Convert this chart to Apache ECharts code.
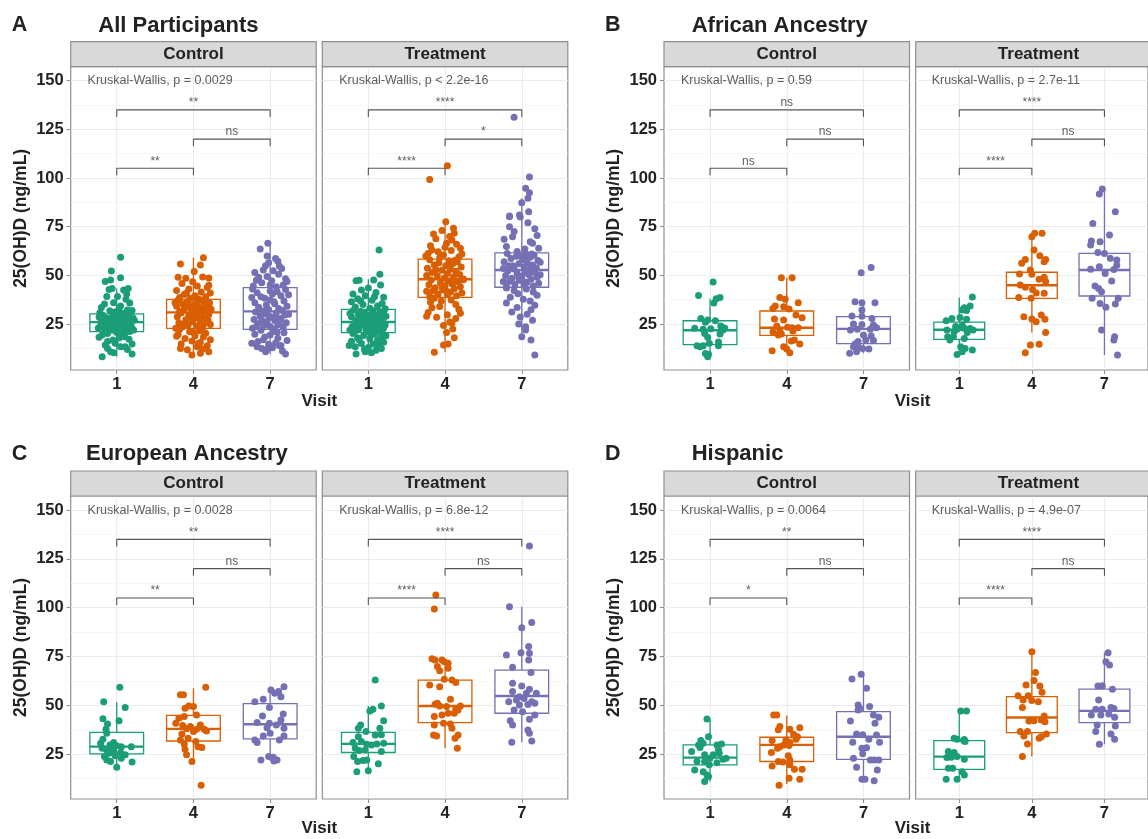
<!DOCTYPE html>
<html><head><meta charset="utf-8">
<script src="https://cdn.jsdelivr.net/npm/echarts@6/dist/echarts.min.js"></script>
<style>html,body{margin:0;padding:0;background:#fff}#c{width:1148px;height:839px}</style>
</head><body><div id="c"></div><script>
// ---------- labels ----------
const visits = ['1','4','7'];
const facets = ['Control','Treatment'];
const yTicks = [25,50,75,100,125,150];
const yMinor = [12.5,37.5,62.5,87.5,112.5,137.5];
const colors = ['#1B9E77','#D95F02','#7570B3'];
const panelLetters = ['A','B','C','D'];
const panelTitles = ['All Participants','African Ancestry','European Ancestry','Hispanic'];
const kwText = [
  ['Kruskal-Wallis, p = 0.0029','Kruskal-Wallis, p < 2.2e-16'],
  ['Kruskal-Wallis, p = 0.59','Kruskal-Wallis, p = 2.7e-11'],
  ['Kruskal-Wallis, p = 0.0028','Kruskal-Wallis, p = 6.8e-12'],
  ['Kruskal-Wallis, p = 0.0064','Kruskal-Wallis, p = 4.9e-07']
];
// significance labels, order: 1 vs 4, 4 vs 7, 1 vs 7
const sigLabels = [
  [['**','ns','**'],['****','*','****']],
  [['ns','ns','ns'],['****','ns','****']],
  [['**','ns','**'],['****','ns','****']],
  [['*','ns','**'],['****','ns','****']]
];
const bracketPairs = [[1,2],[2,3],[1,3]];
const bracketY = [105,120,135];
const bracketTip = 3.6;
const kwY = 150;
const kwX = 0.62;

// ---------- box stats [lower whisker, Q1, median, Q3, upper whisker] ----------
const boxA_C = [[8.2,21.1,26.0,30.2,43.3],[9.1,22.8,31.0,37.7,59.1],[9.6,22.3,31.5,43.7,66.5]];
const boxA_T = [[9.6,20.6,26.05,32.5,48.0],[10.5,38.7,48.0,58.4,77.6],[18.5,43.9,52.8,61.6,89.6]];
const boxB_C = [[8.2,14.4,21.8,26.7,38.0],[10.3,19.2,23.1,31.7,48.8],[10.0,14.9,22.5,28.8,36.5]];
const boxB_T = [[9.4,17.1,22.1,26.0,38.7],[20.6,38.2,44.9,51.6,71.6],[9.1,39.4,52.8,61.3,94.4]];
const boxC_C = [[18.4,25.2,28.9,36.2,51.6],[21.3,31.8,38.0,44.9,58.8],[21.6,32.9,40.4,50.9,59.6]];
const boxC_T = [[16.1,25.9,30.3,36.2,49.7],[28.1,41.2,49.7,63.0,73.3],[31.2,46.0,54.8,68.1,100.5]];
const boxD_C = [[11.0,19.6,23.3,29.8,43.1],[9.8,21.3,29.8,33.7,44.8],[11.5,22.4,34.0,46.8,65.9]];
const boxD_T = [[12.2,17.3,23.8,32.0,47.2],[23.8,36.1,43.8,54.5,77.5],[30.1,41.2,47.2,58.3,77.0]];

// ---------- jittered points [x offset from visit, value] ----------
const ptsA_C1 = [[0.05,59.3],[-0.07,52.2],[0.05,48.8],[-0.15,46.8],[-0.08,47.6],[-0.1,42.8],[-0.06,43.3],[0.15,43.3],[0.09,42.5],[0.13,40.5],[-0.13,39.1],[0.12,37.7],[0.01,39.1],[-0.16,35.3],[-0.04,36.0],[0.05,34.3],[0.17,35.8],[-0.2,33.5],[0.2,32.0],[0.03,33.0],[-0.09,31.8],[0.14,32.2],[-0.22,30.8],[0.07,30.6],[-0.02,31.2],[0.1,30.4],[-0.18,29.5],[0.02,29.8],[0.16,29.2],[-0.05,28.9],[0.09,28.5],[-0.12,28.0],[0.21,28.2],[-0.01,27.6],[0.12,27.3],[-0.2,27.0],[0.05,26.8],[-0.09,26.5],[0.18,26.4],[-0.15,26.2],[0.0,26.1],[0.08,27.9],[-0.03,29.1],[0.13,29.6],[-0.23,28.6],[0.23,26.9],[-0.07,27.2],[0.04,28.0],[-0.17,25.7],[0.06,25.5],[0.15,25.2],[-0.08,24.9],[0.1,24.6],[-0.21,24.3],[0.02,24.0],[0.19,23.8],[-0.11,23.5],[0.08,23.2],[-0.02,22.9],[-0.16,22.6],[0.13,22.4],[0.22,22.0],[-0.06,21.8],[0.04,21.5],[-0.13,21.3],[0.17,21.2],[-0.24,23.0],[0.11,25.9],[-0.04,25.0],[0.0,22.2],[0.07,21.0],[-0.19,24.6],[-0.12,20.2],[-0.19,19.4],[0.1,20.0],[-0.23,18.2],[0.1,18.5],[0.16,17.2],[-0.12,16.0],[-0.02,15.1],[0.05,13.4],[0.2,14.7],[0.11,13.4],[-0.12,12.5],[-0.08,10.8],[-0.04,10.3],[0.2,9.6],[-0.19,8.2],[0.03,17.8],[-0.15,14.2],[0.08,19.5],[-0.05,16.8],[0.14,11.9],[0.0,20.6]];
const ptsA_C4 = [[0.13,59.1],[-0.17,55.8],[0.09,55.3],[-0.2,49.0],[0.2,48.6],[-0.01,46.7],[-0.1,48.5],[0.12,49.2],[-0.15,45.8],[0.05,44.6],[0.18,43.8],[-0.06,43.0],[-0.22,42.2],[0.1,41.5],[0.22,40.9],[-0.12,40.2],[0.02,39.6],[0.16,39.0],[-0.18,38.6],[-0.04,38.2],[0.07,37.9],[0.2,44.9],[-0.09,41.0],[0.01,52.0],[-0.2,37.4],[0.12,37.0],[-0.08,36.6],[0.04,36.2],[0.21,35.8],[-0.14,35.4],[0.0,35.0],[0.16,34.6],[-0.22,34.2],[0.08,33.8],[-0.05,33.5],[0.19,33.1],[-0.12,32.8],[0.1,32.4],[-0.02,32.1],[0.14,31.8],[-0.18,31.5],[0.05,31.2],[-0.09,34.9],[0.23,32.6],[-0.24,36.0],[0.0,33.0],[0.17,36.9],[-0.16,30.7],[0.07,30.3],[0.2,29.9],[-0.06,29.5],[0.11,29.1],[-0.21,28.7],[0.03,28.2],[0.17,27.7],[-0.1,27.2],[0.09,26.7],[-0.01,26.2],[-0.19,25.7],[0.14,25.3],[0.22,24.8],[-0.07,24.4],[0.04,24.0],[-0.14,23.6],[0.12,23.2],[-0.23,22.9],[0.0,29.8],[0.19,27.0],[-0.12,25.0],[0.06,23.8],[-0.03,28.0],[-0.18,22.2],[0.08,21.6],[-0.05,21.0],[0.16,20.3],[-0.2,19.6],[0.02,19.0],[0.13,18.3],[-0.11,17.6],[0.22,17.0],[-0.02,16.3],[0.09,15.5],[-0.16,14.7],[0.18,13.9],[-0.17,12.5],[0.05,13.4],[0.09,10.0],[-0.02,9.1],[0.2,10.8],[-0.08,11.8],[0.12,12.2],[-0.22,18.8],[0.0,20.6],[0.06,15.0]];
const ptsA_C7 = [[-0.03,66.5],[-0.13,63.5],[-0.04,60.0],[0.07,58.7],[-0.02,56.5],[0.12,54.8],[-0.09,52.8],[0.04,52.4],[-0.15,49.0],[-0.04,49.4],[0.11,50.6],[0.17,45.1],[-0.18,47.5],[0.2,48.3],[-0.11,46.2],[0.0,45.0],[0.08,44.2],[-0.22,44.6],[0.15,53.5],[-0.06,55.0],[0.22,46.8],[0.02,47.2],[-0.2,51.5],[0.1,57.2],[-0.17,41.1],[-0.07,38.2],[0.09,41.7],[0.2,42.8],[-0.23,43.0],[0.03,40.5],[0.14,39.6],[-0.12,39.0],[0.0,37.4],[0.18,36.8],[-0.2,36.0],[0.06,35.4],[-0.05,34.8],[0.22,34.2],[-0.15,33.6],[0.11,33.0],[-0.02,32.5],[0.16,32.0],[-0.09,31.7],[0.05,36.5],[-0.24,38.6],[0.24,40.0],[0.0,42.0],[-0.19,31.2],[0.08,30.7],[-0.06,30.2],[0.19,29.6],[-0.13,29.1],[0.02,28.5],[0.14,27.9],[-0.21,27.4],[0.06,26.8],[-0.04,26.3],[0.21,25.7],[-0.16,25.2],[0.1,24.7],[-0.08,24.2],[0.0,23.7],[0.17,23.3],[-0.23,22.8],[0.05,22.5],[-0.11,27.0],[0.24,30.0],[-0.01,29.0],[0.12,25.9],[-0.18,23.8],[0.07,28.0],[-0.12,21.8],[0.04,21.2],[0.18,20.5],[-0.2,19.8],[0.0,19.4],[0.1,17.7],[-0.07,18.3],[0.22,16.6],[-0.16,16.0],[0.07,15.3],[-0.02,14.6],[0.14,14.0],[-0.17,13.4],[-0.11,12.5],[-0.04,12.0],[0.12,13.9],[0.2,9.6],[0.03,12.8],[-0.24,15.2],[0.09,20.9],[-0.09,17.0],[0.16,11.2],[-0.06,10.8]];
const ptsA_T1 = [[0.14,63.0],[0.15,50.6],[0.07,47.6],[-0.16,47.3],[-0.12,47.5],[-0.09,42.5],[0.0,43.5],[0.16,45.0],[-0.2,40.5],[0.1,41.2],[-0.04,39.6],[0.2,38.8],[-0.14,38.0],[0.05,37.2],[-0.22,36.4],[0.18,35.6],[-0.07,35.0],[0.12,34.3],[-0.17,33.7],[0.02,33.1],[0.22,32.8],[-0.1,36.8],[0.08,39.0],[-0.19,32.2],[0.06,31.8],[0.15,31.3],[-0.05,30.9],[0.2,30.5],[-0.13,30.0],[0.01,29.6],[0.11,29.1],[-0.22,28.7],[-0.08,28.2],[0.17,27.8],[0.04,27.3],[-0.15,26.9],[0.09,26.5],[-0.02,26.2],[0.23,29.0],[-0.1,31.5],[0.13,27.0],[-0.24,30.4],[0.0,28.0],[0.19,26.4],[-0.05,27.5],[0.07,30.0],[-0.17,25.8],[0.05,25.4],[0.16,25.0],[-0.06,24.6],[0.1,24.2],[-0.21,23.8],[0.0,23.4],[0.2,23.0],[-0.12,22.6],[0.07,22.2],[-0.03,21.8],[0.14,21.4],[-0.18,21.0],[0.02,20.7],[0.22,24.5],[-0.09,25.1],[0.12,22.9],[-0.24,22.0],[0.04,24.0],[-0.14,23.2],[0.18,21.7],[-0.01,25.6],[0.09,20.9],[-0.2,20.2],[0.08,19.7],[-0.06,19.1],[0.17,18.6],[-0.14,18.0],[0.02,17.4],[0.12,16.8],[-0.22,16.2],[0.2,15.6],[-0.09,15.0],[0.06,14.7],[0.13,14.3],[-0.17,13.4],[-0.05,12.0],[0.17,12.5],[-0.16,9.6],[-0.04,10.8],[0.0,13.0],[0.1,11.5],[-0.12,17.0],[0.23,19.0],[-0.25,14.0],[0.04,10.2]];
const ptsA_T4 = [[0.03,106.3],[-0.2,99.3],[0.01,77.6],[0.11,74.2],[-0.15,71.3],[-0.04,73.0],[0.12,71.6],[0.09,68.2],[0.02,66.5],[-0.17,63.0],[-0.09,62.2],[-0.22,61.3],[0.15,66.0],[0.2,64.0],[-0.12,68.8],[0.06,70.0],[-0.02,60.5],[0.18,59.5],[-0.19,65.2],[0.08,62.8],[-0.07,59.0],[0.22,61.0],[0.0,64.5],[-0.25,60.0],[-0.2,58.0],[0.05,57.5],[0.16,57.0],[-0.08,56.5],[0.1,56.0],[-0.14,55.4],[0.01,54.9],[0.21,54.3],[-0.23,53.7],[0.07,53.2],[-0.04,52.7],[0.14,52.1],[-0.17,51.5],[0.03,51.0],[0.19,50.4],[-0.1,49.8],[0.11,49.3],[-0.01,48.7],[0.24,48.2],[-0.12,53.0],[0.06,55.8],[-0.24,50.0],[0.13,57.8],[-0.18,47.6],[0.04,47.2],[0.17,46.7],[-0.06,46.2],[0.09,45.7],[-0.21,45.2],[0.0,44.7],[0.2,44.1],[-0.13,43.6],[0.12,43.1],[-0.03,42.6],[-0.16,42.0],[0.07,41.5],[0.22,41.0],[-0.09,40.5],[0.03,40.0],[0.15,39.5],[-0.2,39.0],[-0.04,44.0],[0.1,46.0],[-0.24,41.8],[0.24,47.8],[0.01,42.3],[-0.14,38.2],[0.08,37.3],[-0.19,36.2],[0.14,35.0],[-0.07,34.0],[0.18,32.6],[-0.22,31.0],[0.03,29.8],[-0.11,28.5],[0.14,27.9],[0.06,26.0],[-0.02,24.3],[0.1,22.5],[0.02,20.6],[-0.17,33.4],[0.2,30.5],[0.04,14.7],[-0.02,14.2],[-0.14,10.5],[0.09,25.5],[-0.05,36.8],[0.12,18.0],[-0.24,29.0]];
const ptsA_T7 = [[-0.1,131.2],[0.1,100.5],[0.05,94.7],[0.1,92.5],[0.08,89.6],[0.0,87.3],[0.09,82.7],[-0.16,80.1],[-0.02,80.0],[-0.16,80.5],[-0.03,81.0],[0.08,77.1],[-0.16,75.0],[-0.1,72.5],[-0.12,69.9],[0.11,67.3],[0.14,66.5],[0.2,70.5],[-0.2,64.8],[0.04,63.5],[-0.06,62.3],[0.17,74.0],[0.22,64.0],[-0.23,68.5],[-0.19,61.2],[0.06,60.8],[0.16,60.3],[-0.07,59.8],[0.11,59.3],[-0.14,58.7],[0.01,58.2],[0.21,57.6],[-0.23,57.0],[0.07,56.5],[-0.04,56.0],[0.14,55.4],[-0.17,54.9],[0.03,54.4],[0.19,53.8],[-0.1,53.3],[0.1,53.0],[-0.01,60.0],[0.24,56.8],[-0.12,55.0],[0.05,58.5],[-0.24,53.5],[0.13,61.0],[-0.18,52.4],[0.04,52.0],[0.17,51.5],[-0.06,51.0],[0.09,50.5],[-0.21,50.0],[0.0,49.5],[0.2,49.0],[-0.13,48.5],[0.12,48.0],[-0.03,47.5],[-0.16,47.0],[0.07,46.5],[0.22,46.0],[-0.09,45.5],[0.03,45.0],[0.15,44.5],[-0.2,44.2],[-0.04,48.8],[0.1,51.2],[-0.24,46.8],[0.24,50.3],[0.01,47.2],[-0.2,43.5],[0.06,43.0],[-0.1,42.2],[0.15,41.5],[-0.05,40.6],[0.2,39.8],[-0.15,38.8],[0.02,37.8],[0.11,36.9],[-0.2,35.8],[0.17,34.6],[-0.06,33.5],[0.12,32.4],[-0.13,31.2],[0.07,30.0],[-0.02,28.6],[0.14,27.0],[-0.04,25.0],[0.05,23.6],[0.05,21.9],[0.0,18.5],[0.12,16.8],[0.17,9.1]];
const ptsB_C1 = [[0.04,46.6],[-0.15,39.7],[0.08,38.0],[0.13,38.6],[0.05,35.8],[-0.12,27.9],[-0.03,27.1],[0.07,26.7],[-0.06,25.9],[-0.2,22.8],[-0.09,22.3],[0.01,22.6],[0.14,24.0],[0.17,21.9],[0.19,23.0],[-0.07,20.2],[-0.03,18.2],[0.13,19.9],[-0.17,13.9],[-0.13,13.4],[-0.09,13.9],[-0.01,15.1],[0.11,13.9],[0.11,15.8],[-0.06,9.9],[-0.03,8.2],[-0.02,9.5]];
const ptsB_C4 = [[-0.07,48.8],[0.07,48.8],[-0.09,38.7],[-0.02,37.7],[-0.15,34.3],[-0.18,33.0],[-0.04,33.9],[0.03,32.7],[0.15,36.0],[0.12,29.6],[0.2,28.3],[-0.16,27.6],[-0.04,27.1],[-0.13,24.0],[0.01,23.3],[0.07,23.1],[0.15,23.1],[-0.09,21.9],[-0.18,21.1],[-0.07,19.9],[-0.11,19.4],[0.08,21.4],[0.1,16.8],[0.06,16.3],[0.17,14.7],[-0.04,13.4],[0.0,12.2],[-0.19,11.3],[0.04,10.3]];
const ptsB_C7 = [[-0.03,51.4],[0.10,54.0],[-0.11,36.5],[-0.02,36.0],[0.15,36.0],[-0.02,32.2],[-0.15,29.1],[-0.02,29.0],[0.11,27.9],[-0.13,25.0],[-0.02,24.8],[0.13,24.5],[0.17,23.1],[-0.17,21.9],[-0.08,22.3],[0.09,22.3],[0.0,19.4],[0.1,18.9],[0.03,16.8],[0.13,16.5],[-0.07,16.0],[-0.11,14.7],[-0.13,13.4],[-0.07,13.3],[-0.01,12.5],[0.07,12.2],[-0.18,10.0],[-0.09,10.8],[0.12,23.3]];
const ptsB_T1 = [[0.18,38.9],[0.07,33.4],[0.04,32.2],[0.1,32.0],[0.15,34.3],[-0.18,26.7],[-0.10,27.9],[0.01,28.4],[0.1,27.5],[-0.05,23.7],[0.04,24.5],[0.07,22.8],[0.15,22.7],[0.19,21.9],[-0.17,22.0],[-0.03,22.3],[-0.16,18.5],[-0.08,18.6],[-0.13,16.8],[0.07,17.6],[0.02,13.4],[0.08,12.5],[0.18,11.7],[-0.03,9.4],[0.04,10.8],[0.11,20.6],[-0.07,21.2]];
const ptsB_T4 = [[0.04,71.6],[0.14,71.6],[0.0,69.9],[0.03,63.0],[-0.09,58.2],[-0.14,56.2],[0.11,60.1],[0.19,58.2],[0.17,57.0],[-0.02,52.8],[-0.17,50.7],[0.0,50.6],[0.17,49.0],[0.1,48.0],[0.19,46.8],[-0.16,45.1],[-0.09,43.9],[0.01,42.8],[0.17,40.8],[0.06,40.9],[-0.18,38.7],[-0.01,38.2],[-0.11,28.8],[0.0,27.6],[0.06,26.2],[0.13,29.6],[0.18,27.5],[0.19,20.6],[-0.02,14.2],[0.1,14.6],[-0.09,10.3]];
const ptsB_T7 = [[-0.03,94.4],[-0.07,91.8],[0.15,82.7],[-0.16,76.7],[0.07,70.7],[-0.18,67.7],[-0.06,67.3],[-0.19,65.6],[0.0,61.3],[-0.09,61.7],[0.08,58.8],[0.17,57.9],[-0.19,53.1],[-0.07,54.5],[0.13,53.0],[0.01,51.0],[0.17,55.2],[0.1,47.1],[-0.13,44.5],[-0.08,43.3],[-0.04,41.6],[-0.17,38.2],[-0.06,35.6],[0.19,38.2],[0.15,35.3],[0.02,33.6],[-0.04,21.9],[0.14,18.5],[0.13,16.8],[0.18,9.1]];
const ptsC_C1 = [[0.04,59.3],[-0.17,51.9],[0.11,48.9],[-0.18,43.2],[0.03,42.2],[-0.12,40.5],[-0.14,37.8],[-0.13,35.7],[-0.18,32.7],[-0.04,31.0],[-0.09,29.8],[0.0,29.3],[0.06,28.9],[0.19,28.9],[-0.19,28.1],[-0.13,27.2],[-0.04,26.7],[-0.1,25.5],[0.11,24.7],[-0.16,23.8],[-0.02,24.2],[0.06,23.0],[-0.13,22.1],[-0.08,21.3],[0.2,21.1],[0.0,18.4],[-0.21,30.6],[-0.06,27.6],[0.05,25.9]];
const ptsC_C4 = [[-0.17,55.4],[-0.13,55.4],[0.16,59.3],[-0.06,49.7],[-0.11,48.5],[0.0,49.4],[0.04,45.1],[-0.19,43.4],[-0.12,44.3],[-0.23,40.9],[-0.14,39.7],[-0.04,39.2],[0.09,40.0],[-0.09,38.0],[0.04,37.8],[0.14,37.8],[-0.15,35.4],[0.0,36.6],[0.17,36.9],[-0.17,32.3],[-0.07,33.2],[-0.12,30.3],[0.03,31.5],[-0.11,27.6],[0.06,28.9],[0.11,28.4],[-0.09,24.7],[-0.02,21.3],[0.1,9.1]];
const ptsC_C7 = [[0.18,59.6],[0.01,57.9],[0.06,56.2],[0.11,57.1],[0.14,54.5],[-0.09,53.1],[-0.2,51.9],[-0.01,48.9],[0.17,45.6],[-0.1,44.6],[0.14,42.6],[-0.01,40.9],[-0.17,41.2],[0.08,40.0],[0.18,38.3],[-0.04,38.6],[0.0,35.7],[-0.09,34.4],[0.18,34.4],[0.12,32.3],[-0.2,32.3],[-0.17,31.0],[-0.12,22.1],[-0.02,23.8],[0.04,23.5],[0.09,22.1],[0.05,21.6]];
const ptsC_T1 = [[0.09,63.0],[0.17,49.7],[0.06,48.0],[0.02,47.2],[0.2,42.2],[-0.1,40.0],[-0.13,38.3],[0.15,38.3],[-0.03,36.6],[0.09,34.9],[-0.13,34.0],[0.17,35.0],[-0.2,31.0],[-0.09,31.5],[-0.02,30.1],[0.04,29.8],[0.11,30.3],[0.2,30.6],[-0.17,28.1],[-0.12,26.9],[-0.04,27.2],[0.17,26.4],[-0.19,23.8],[-0.07,21.8],[-0.02,22.1],[0.13,20.1],[-0.14,21.3],[-0.15,16.1],[0.0,16.6]];
const ptsC_T4 = [[-0.12,106.5],[-0.14,99.4],[-0.17,73.9],[-0.13,73.3],[-0.04,73.3],[-0.01,72.4],[-0.1,69.9],[0.04,71.6],[-0.07,67.8],[0.04,69.0],[-0.01,63.4],[0.09,63.0],[0.14,61.7],[-0.2,60.5],[-0.07,59.6],[-0.1,51.1],[0.07,53.1],[-0.13,50.6],[-0.07,49.7],[0.02,49.4],[0.14,48.0],[0.2,49.7],[-0.14,44.3],[-0.04,45.1],[0.04,46.0],[0.12,46.0],[0.17,47.7],[-0.02,40.9],[-0.14,40.0],[0.07,40.5],[-0.15,34.9],[-0.11,34.4],[0.17,34.9],[0.13,33.2],[0.16,28.1],[0.09,38.3]];
const ptsC_T7 = [[0.1,131.6],[-0.16,100.5],[0.13,92.4],[0.0,89.8],[0.09,80.1],[0.1,76.7],[-0.2,75.8],[-0.01,77.0],[0.09,73.3],[-0.12,69.5],[0.12,66.8],[-0.12,61.3],[0.0,60.0],[0.1,58.3],[-0.12,57.1],[0.06,56.2],[-0.03,54.5],[0.19,56.2],[-0.17,51.9],[-0.07,52.8],[0.03,53.6],[0.13,51.9],[-0.03,50.2],[0.08,50.5],[0.17,51.1],[-0.10,47.7],[0.01,46.8],[0.17,45.1],[-0.15,42.2],[0.1,42.9],[-0.12,40.0],[0.08,37.4],[0.1,35.7],[-0.13,31.2],[0.13,31.8]];
const ptsD_C1 = [[-0.04,43.1],[-0.12,32.0],[-0.02,34.0],[-0.24,26.4],[-0.15,29.8],[-0.09,30.6],[0.09,29.8],[0.15,30.3],[0.11,27.2],[-0.07,24.7],[0.0,23.0],[0.04,24.7],[0.17,22.5],[0.21,23.0],[-0.17,21.3],[-0.07,21.3],[-0.01,19.6],[0.09,20.7],[-0.2,17.0],[-0.09,16.1],[-0.04,14.4],[-0.02,13.6],[-0.07,11.0],[0.12,25.5],[-0.13,28.5]];
const ptsD_C4 = [[-0.17,45.1],[-0.13,45.1],[-0.09,39.2],[-0.11,37.5],[0.04,37.8],[0.17,38.6],[0.09,35.2],[0.14,34.0],[-0.19,32.0],[-0.01,32.3],[0.12,32.7],[0.04,31.0],[-0.09,28.9],[-0.04,29.8],[0.03,29.5],[-0.12,28.1],[-0.2,25.9],[0.02,24.2],[0.04,22.1],[-0.11,21.3],[-0.05,21.0],[-0.19,19.0],[0.04,19.6],[0.1,17.3],[0.2,17.3],[0.03,12.7],[0.17,12.2],[-0.10,9.1]];
const ptsD_C7 = [[-0.03,65.9],[-0.15,63.5],[0.04,58.8],[-0.07,50.2],[-0.05,48.5],[-0.07,47.7],[0.08,49.4],[-0.17,42.0],[0.13,45.1],[0.2,43.9],[0.15,40.9],[-0.09,35.4],[-0.01,35.0],[0.17,34.9],[-0.14,31.2],[0.07,32.7],[0.21,31.2],[-0.02,28.1],[0.04,28.3],[-0.01,25.2],[-0.13,23.0],[0.09,22.1],[0.14,22.1],[0.2,22.1],[-0.09,18.4],[0.18,17.0],[-0.02,12.2],[0.02,12.2],[0.14,11.5]];
const ptsD_T1 = [[0.02,47.2],[0.1,47.2],[-0.07,33.2],[-0.03,32.7],[0.06,32.0],[0.08,31.5],[0.07,32.5],[-0.15,26.4],[-0.07,25.9],[-0.03,23.8],[-0.17,23.3],[-0.11,23.5],[0.07,22.4],[-0.15,17.8],[-0.09,17.8],[0.04,16.1],[0.07,14.4],[-0.18,12.2],[-0.03,12.2]];
const ptsD_T4 = [[0.0,77.5],[0.05,66.8],[0.03,62.7],[-0.08,60.5],[0.11,60.0],[0.14,56.7],[-0.19,55.0],[-0.05,55.0],[0.09,51.9],[-0.12,52.8],[0.0,52.5],[-0.13,49.0],[0.17,44.6],[0.13,42.5],[0.03,42.2],[-0.04,42.0],[0.18,41.7],[-0.16,36.6],[-0.06,36.6],[-0.11,34.4],[0.10,33.2],[0.2,35.4],[0.13,34.0],[-0.06,30.3],[-0.13,23.8]];
const ptsD_T7 = [[0.05,77.0],[0.02,72.4],[0.07,70.7],[-0.09,60.0],[-0.03,60.1],[0.11,58.3],[-0.08,52.8],[-0.12,48.0],[-0.03,48.0],[0.09,49.0],[0.13,48.4],[-0.18,45.1],[-0.05,45.1],[0.14,43.9],[0.06,45.6],[-0.1,40.0],[0.15,39.5],[-0.12,36.6],[0.09,35.4],[0.14,32.7],[-0.07,30.1]];

// ---------- assemble ----------
const panelData = [
  {boxes:[boxA_C, boxA_T], pts:[[ptsA_C1,ptsA_C4,ptsA_C7],[ptsA_T1,ptsA_T4,ptsA_T7]]},
  {boxes:[boxB_C, boxB_T], pts:[[ptsB_C1,ptsB_C4,ptsB_C7],[ptsB_T1,ptsB_T4,ptsB_T7]]},
  {boxes:[boxC_C, boxC_T], pts:[[ptsC_C1,ptsC_C4,ptsC_C7],[ptsC_T1,ptsC_T4,ptsC_T7]]},
  {boxes:[boxD_C, boxD_T], pts:[[ptsD_C1,ptsD_C4,ptsD_C7],[ptsD_T1,ptsD_T4,ptsD_T7]]}
];

// layout (pixels)
const FONT = '"Liberation Sans", Arial, Helvetica, sans-serif';
const facetLeft = [[70.7, 322.3],[664, 915.7]];
const facetWidth = 245.5;
const rowTop = [66.7, 496];
const rowHeight = [303.3, 303];
const rowY = [[1.4,157.2],[2.1,157.2]];
const stripH = 25;
const titleY = [25.5, 454.3];
const letterX = [11.7, 605];
const titleX = [[98.3, 691.7],[86, 691.7]];
const visitY = [401.7, 828.3];
const BORDER = '#8f8f8f';
const TXT = '#222';

function renderBox(params, api) {
  const x = api.value(0);
  const c = colors[api.value(6)];
  const pLo = api.coord([x, api.value(1)]);
  const pQ1 = api.coord([x, api.value(2)]);
  const pMed = api.coord([x, api.value(3)]);
  const pQ3 = api.coord([x, api.value(4)]);
  const pHi = api.coord([x, api.value(5)]);
  const w = api.size([0.7, 0])[0];
  const lw = 1.3;
  return {type:'group', children:[
    {type:'line', shape:{x1:pLo[0],y1:pLo[1],x2:pQ1[0],y2:pQ1[1]}, style:{stroke:c,lineWidth:lw}},
    {type:'line', shape:{x1:pQ3[0],y1:pQ3[1],x2:pHi[0],y2:pHi[1]}, style:{stroke:c,lineWidth:lw}},
    {type:'rect', shape:{x:pQ1[0]-w/2, y:pQ3[1], width:w, height:pQ1[1]-pQ3[1]}, style:{fill:'#fff', stroke:c, lineWidth:lw}},
    {type:'line', shape:{x1:pMed[0]-w/2,y1:pMed[1],x2:pMed[0]+w/2,y2:pMed[1]}, style:{stroke:c,lineWidth:2.4}}
  ]};
}

const grids=[], xAxes=[], yAxes=[], series=[], graphics=[];

function txt(text, x, y, size, align, weight, color) {
  return {type:'text', silent:true, z:100, style:{text, x, y, fontSize:size, fontWeight:weight||'bold', fontFamily:FONT,
    fill:color||TXT, align:align||'center', verticalAlign:'middle', textAlign:align||'center', textVerticalAlign:'middle'}};
}

panelData.forEach((pd, p) => {
  const row = Math.floor(p/2), col = p%2;
  graphics.push(txt(panelLetters[p], letterX[col], titleY[row], 21.5, 'left'));
  graphics.push(txt(panelTitles[p], titleX[row][col], titleY[row], 22, 'left'));
  graphics.push(txt('Visit', (facetLeft[col][0] + facetLeft[col][1] + facetWidth)/2, visitY[row], 17, 'center'));
  facets.forEach((fname, f) => {
    const g = grids.length;
    const left = facetLeft[col][f];
    grids.push({left, top: rowTop[row], width: facetWidth, height: rowHeight[row], show:true,
      backgroundColor:'#fff', borderColor:BORDER, borderWidth:1.2, containLabel:false});
    graphics.push({type:'rect', silent:true, z:50, shape:{x:left, y:rowTop[row]-stripH, width:facetWidth, height:stripH},
      style:{fill:'#D9D9D9', stroke:BORDER, lineWidth:1.2}});
    graphics.push(txt(fname, left + facetWidth/2, rowTop[row]-stripH/2, 17, 'center'));
    xAxes.push({gridIndex:g, type:'value', min:0.4, max:3.6, splitLine:{show:false}, axisLine:{show:false},
      axisTick:{show:true, customValues:[1,2,3], length:4, lineStyle:{color:BORDER, width:1.1}},
      axisLabel:{show:true, customValues:[1,2,3], formatter:(v)=>visits[Math.round(v)-1], margin:6,
        fontSize:16.5, fontWeight:'bold', fontFamily:FONT, color:TXT}});
    const yax = {gridIndex:g, type:'value', min:rowY[row][0], max:rowY[row][1], splitLine:{show:false}, axisLine:{show:false},
      axisTick:{show:f===0, customValues:yTicks, length:4, lineStyle:{color:BORDER, width:1.1}},
      axisLabel:{show:f===0, customValues:yTicks, margin:7, fontSize:16.5, fontWeight:'bold', fontFamily:FONT, color:TXT}};
    if (f===0) Object.assign(yax, {name:'25(OH)D (ng/mL)', nameLocation:'middle', nameGap:41, nameRotate:90,
      nameTextStyle:{fontSize:17.5, fontWeight:'bold', fontFamily:FONT, color:TXT}});
    yAxes.push(yax);
    // grid lines
    series.push({type:'line', xAxisIndex:g, yAxisIndex:g, data:[], silent:true, z:1,
      markLine:{silent:true, symbol:['none','none'], label:{show:false}, animation:false, z:1,
        data:[
          ...yMinor.map(v=>({yAxis:v, lineStyle:{color:'#F3F3F3', width:0.7, type:'solid'}})),
          ...yTicks.map(v=>({yAxis:v, lineStyle:{color:'#EBEBEB', width:1.1, type:'solid'}})),
          ...[1,2,3].map(v=>({xAxis:v, lineStyle:{color:'#EBEBEB', width:1.1, type:'solid'}}))
        ]}});
    // boxes
    series.push({type:'custom', xAxisIndex:g, yAxisIndex:g, renderItem:renderBox, silent:true, z:2,
      encode:{x:0, y:[1,2,3,4,5]},
      data: pd.boxes[f].map((b,i)=>[i+1, ...b, i])});
    // points
    pd.pts[f].forEach((arr, i) => {
      series.push({type:'scatter', xAxisIndex:g, yAxisIndex:g, silent:true, z:3, symbolSize:7,
        itemStyle:{color:colors[i], opacity:1}, data: arr.map(([dx,y])=>[i+1+dx, y])});
    });
    // brackets
    bracketPairs.forEach(([a,b], k) => {
      const y = bracketY[k];
      series.push({type:'line', xAxisIndex:g, yAxisIndex:g, silent:true, z:4, symbol:'none',
        lineStyle:{color:'#555', width:1.1}, data:[[a,y-bracketTip],[a,y],[b,y],[b,y-bracketTip]]});
    });
    series.push({type:'scatter', xAxisIndex:g, yAxisIndex:g, silent:true, z:5, symbolSize:0,
      data: bracketPairs.map(([a,b],k)=>[(a+b)/2, bracketY[k], sigLabels[p][f][k]]),
      label:{show:true, position:'top', distance:1, formatter:(q)=>q.data[2], fontSize:12, fontFamily:FONT, color:'#333'}});
    series.push({type:'scatter', xAxisIndex:g, yAxisIndex:g, silent:true, z:5, symbolSize:0,
      data:[[kwX, kwY, kwText[p][f]]],
      label:{show:true, position:'right', distance:0, formatter:(q)=>q.data[2], fontSize:12.5, fontFamily:FONT, color:'#333', align:'left'}});
  });
});

const chart = echarts.init(document.getElementById('c'), null, {renderer:'canvas'});
chart.setOption({animation:false, backgroundColor:'#fff', grid:grids, xAxis:xAxes, yAxis:yAxes, series, graphic:graphics});
</script></body></html>
